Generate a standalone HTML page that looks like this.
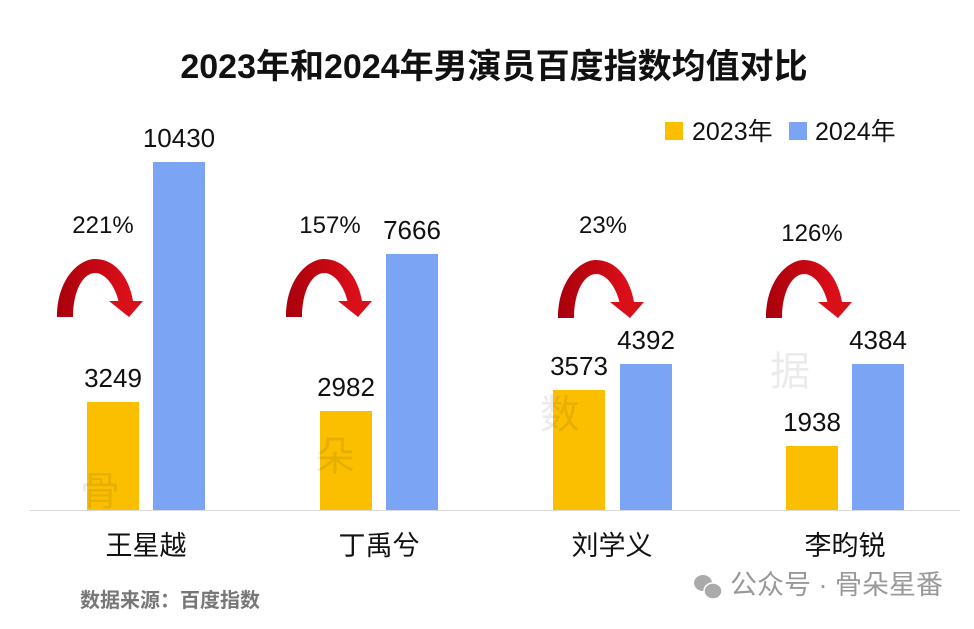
<!DOCTYPE html>
<html><head><meta charset="utf-8"><style>
body{margin:0;background:#fff}
svg text{font-family:"Liberation Sans","Noto Sans CJK SC",sans-serif}
</style></head><body>
<svg width="974" height="624" viewBox="0 0 974 624" xmlns="http://www.w3.org/2000/svg">
<defs>
<linearGradient id="ag" x1="0" y1="0" x2="1" y2="0"><stop offset="0" stop-color="#a8000c"/><stop offset="1" stop-color="#e0101a"/></linearGradient>
<g id="arr">
<path d="M8,58 C8,20 30,0 46,0 C66,0 80,18 84,42 L70,44 C66,26 56,14 46,14 C34,14 24,32 24,58 Z" fill="url(#ag)"/>
<polygon points="60,42 94,42 80,58" fill="#d8101a"/>
</g>
</defs>
<rect width="974" height="624" fill="#fff"/>
<text x="494" y="78" text-anchor="middle" font-size="34" font-weight="bold" fill="#111">2023年和2024年男演员百度指数均值对比</text>
<rect x="665" y="122" width="18" height="18" fill="#fbbf00"/>
<text x="692" y="140" font-size="25" fill="#111">2023年</text>
<rect x="789" y="122" width="18" height="18" fill="#7ba4f4"/>
<text x="815" y="140" font-size="25" fill="#111">2024年</text>
<line x1="30" y1="510.5" x2="960" y2="510.5" stroke="#d9d9d9" stroke-width="1"/>
<g fill="#fbbf00">
<rect x="87" y="402" width="52" height="108"/>
<rect x="320" y="411" width="52" height="99"/>
<rect x="553" y="390" width="52" height="120"/>
<rect x="786" y="446" width="52" height="64"/>
</g>
<g fill="#7ba4f4">
<rect x="153" y="162" width="52" height="348"/>
<rect x="386" y="254" width="52" height="256"/>
<rect x="620" y="364" width="52" height="146"/>
<rect x="852" y="364" width="52" height="146"/>
</g>
<g font-size="26" fill="#111" text-anchor="middle">
<text x="113" y="387">3249</text>
<text x="179" y="147">10430</text>
<text x="346" y="396">2982</text>
<text x="412" y="239">7666</text>
<text x="579" y="375">3573</text>
<text x="646" y="349">4392</text>
<text x="812" y="431">1938</text>
<text x="878" y="349">4384</text>
</g>
<g font-size="24" fill="#111" text-anchor="middle">
<text x="103" y="233">221%</text>
<text x="330" y="233">157%</text>
<text x="603" y="233">23%</text>
<text x="812" y="241">126%</text>
</g>
<use href="#arr" x="49" y="259"/>
<use href="#arr" x="278" y="259"/>
<use href="#arr" x="550" y="260"/>
<use href="#arr" x="758" y="260"/>
<g font-size="27" fill="#111" text-anchor="middle">
<text x="146" y="555">王星越</text>
<text x="379" y="555">丁禹兮</text>
<text x="612" y="555">刘学义</text>
<text x="845" y="555">李昀锐</text>
</g>
<g font-size="40" fill="#000" fill-opacity="0.08" font-family="'Noto Serif CJK SC',serif">
<text x="80" y="505">骨</text><text x="315" y="470">朵</text><text x="540" y="428">数</text><text x="770" y="385">据</text>
</g>
<text x="80" y="607" font-size="20" font-weight="bold" fill="#777">数据来源：百度指数</text>
<g fill="#aaa">
<ellipse cx="703" cy="583" rx="9" ry="8"/><ellipse cx="713" cy="591" rx="9" ry="8" stroke="#fff" stroke-width="1.5"/>
</g>
<text x="730" y="594" font-size="27" fill="#999">公众号 · 骨朵星番</text>
</svg>
</body></html>
